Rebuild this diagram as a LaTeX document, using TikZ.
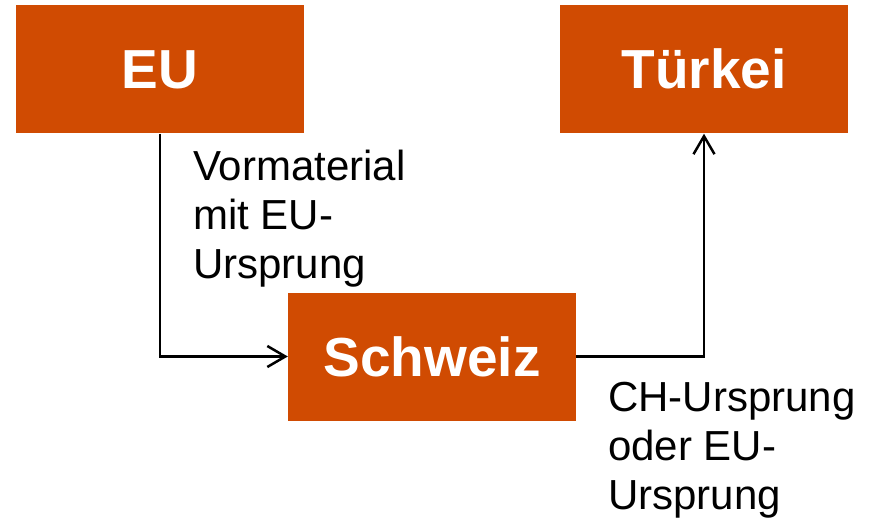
\documentclass[tikz,border=0pt]{standalone}
\usepackage{fontspec}
\setmainfont{Liberation Sans}
\usetikzlibrary{arrows.meta}
\definecolor{boxorange}{RGB}{208,75,2}
\tikzset{
	land/.style={fill=boxorange, text=white, inner sep=0, minimum width=288pt, minimum height=128pt,
		text height=39pt, text depth=0pt, font=\fontsize{55}{60}\selectfont\bfseries},
	weg/.style={line width=2.5pt, -{Straight Barb[length=18pt,width=21pt,line width=2.5pt]}},
	notiz/.style={anchor=base west, align=left, inner sep=0, font=\fontsize{42}{49}\selectfont}
}
\begin{document}
\begin{tikzpicture}[x=1pt, y=-1pt]
			%%%%% START %%%%%
			
			\useasboundingbox (0, 0) rectangle (875, 521);
			
			\node[land] (eu) at (160, 69.5) {EU};
			\node[land] (tuerkei) at (704, 69.5) {Türkei};
			\node[land] (schweiz) at (432, 356.5) {Schweiz};
			
			\draw[weg] (eu.south) |- (schweiz.west);
			\draw[weg] (schweiz.east) -| (tuerkei.south);
			
			% base west = Grundlinie der letzten Zeile
			\node[notiz] (vormat) at (193, 279) {Vormaterial\\mit EU-\\Ursprung};
			\node[notiz] (chur) at (608, 509) {CH-Ursprung\\oder EU-\\Ursprung};
			
			%%%%% END %%%%%
\end{tikzpicture}
\end{document}
